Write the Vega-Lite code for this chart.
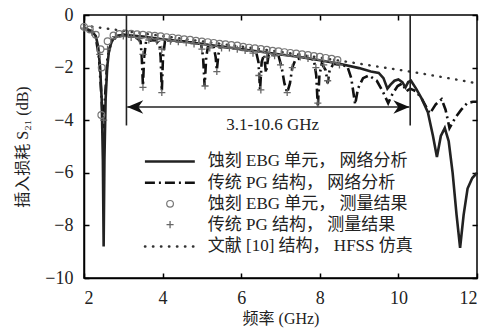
{
  "$schema": "https://vega.github.io/schema/vega-lite/v6.json",
  "autosize": "none",
  "width": 393,
  "height": 263,
  "padding": {"left": 84, "top": 15, "right": 9, "bottom": 53},
  "background": "white",
  "config": {
    "view": {"stroke": "black", "strokeWidth": 1.5},
    "font": "Liberation Serif",
    "axis": {
      "grid": false,
      "domainColor": "black",
      "domainWidth": 1.5,
      "tickColor": "black",
      "tickWidth": 1.5,
      "tickSize": -5,
      "labelFont": "Liberation Serif",
      "labelFontSize": 18,
      "labelColor": "#222",
      "titleFont": "Liberation Serif, Noto Sans CJK SC",
      "titleFontSize": 16,
      "titleFontWeight": "normal",
      "titleColor": "#222"
    }
  },
  "datasets": {
    "curves": [
      {"s": "ebg", "f": 2.0, "v": -0.5}, {"s": "ebg", "f": 2.1, "v": -0.55}, {"s": "ebg", "f": 2.2, "v": -0.62}, {"s": "ebg", "f": 2.3, "v": -0.8},
      {"s": "ebg", "f": 2.36, "v": -1.2}, {"s": "ebg", "f": 2.41, "v": -2.0}, {"s": "ebg", "f": 2.45, "v": -3.2}, {"s": "ebg", "f": 2.48, "v": -5.5},
      {"s": "ebg", "f": 2.5, "v": -8.8}, {"s": "ebg", "f": 2.52, "v": -5.5}, {"s": "ebg", "f": 2.55, "v": -3.2}, {"s": "ebg", "f": 2.59, "v": -2.0},
      {"s": "ebg", "f": 2.64, "v": -1.3}, {"s": "ebg", "f": 2.72, "v": -0.95}, {"s": "ebg", "f": 2.85, "v": -0.8}, {"s": "ebg", "f": 3.0, "v": -0.75},
      {"s": "ebg", "f": 3.5, "v": -0.82}, {"s": "ebg", "f": 4.0, "v": -0.92}, {"s": "ebg", "f": 4.5, "v": -1.0}, {"s": "ebg", "f": 5.0, "v": -1.1},
      {"s": "ebg", "f": 5.5, "v": -1.2}, {"s": "ebg", "f": 6.0, "v": -1.3}, {"s": "ebg", "f": 6.5, "v": -1.4}, {"s": "ebg", "f": 7.0, "v": -1.5},
      {"s": "ebg", "f": 7.5, "v": -1.6}, {"s": "ebg", "f": 8.0, "v": -1.72}, {"s": "ebg", "f": 8.5, "v": -1.85}, {"s": "ebg", "f": 9.0, "v": -2.02},
      {"s": "ebg", "f": 9.3, "v": -2.15}, {"s": "ebg", "f": 9.5, "v": -2.2}, {"s": "ebg", "f": 9.62, "v": -2.4}, {"s": "ebg", "f": 9.72, "v": -2.8},
      {"s": "ebg", "f": 9.8, "v": -2.65}, {"s": "ebg", "f": 9.9, "v": -2.5}, {"s": "ebg", "f": 10.0, "v": -2.45}, {"s": "ebg", "f": 10.1, "v": -2.55},
      {"s": "ebg", "f": 10.18, "v": -2.75}, {"s": "ebg", "f": 10.25, "v": -2.55}, {"s": "ebg", "f": 10.32, "v": -2.5}, {"s": "ebg", "f": 10.45, "v": -2.8},
      {"s": "ebg", "f": 10.6, "v": -3.2}, {"s": "ebg", "f": 10.75, "v": -3.7}, {"s": "ebg", "f": 10.88, "v": -4.6}, {"s": "ebg", "f": 10.98, "v": -5.4},
      {"s": "ebg", "f": 11.08, "v": -4.6}, {"s": "ebg", "f": 11.18, "v": -4.3}, {"s": "ebg", "f": 11.28, "v": -4.8}, {"s": "ebg", "f": 11.38, "v": -6.0},
      {"s": "ebg", "f": 11.48, "v": -7.6}, {"s": "ebg", "f": 11.57, "v": -8.85}, {"s": "ebg", "f": 11.66, "v": -7.6}, {"s": "ebg", "f": 11.76, "v": -6.6},
      {"s": "ebg", "f": 11.88, "v": -6.2}, {"s": "ebg", "f": 12.0, "v": -6.0},

      {"s": "pg", "f": 2.0, "v": -0.5}, {"s": "pg", "f": 2.2, "v": -0.65}, {"s": "pg", "f": 2.3, "v": -0.85}, {"s": "pg", "f": 2.38, "v": -1.6},
      {"s": "pg", "f": 2.44, "v": -3.0}, {"s": "pg", "f": 2.49, "v": -4.3}, {"s": "pg", "f": 2.54, "v": -3.0}, {"s": "pg", "f": 2.6, "v": -1.6},
      {"s": "pg", "f": 2.7, "v": -1.0}, {"s": "pg", "f": 2.85, "v": -0.8}, {"s": "pg", "f": 3.0, "v": -0.75}, {"s": "pg", "f": 3.3, "v": -0.82},
      {"s": "pg", "f": 3.44, "v": -1.0}, {"s": "pg", "f": 3.47, "v": -1.6}, {"s": "pg", "f": 3.5, "v": -2.7}, {"s": "pg", "f": 3.53, "v": -1.6},
      {"s": "pg", "f": 3.58, "v": -1.0}, {"s": "pg", "f": 3.8, "v": -0.95}, {"s": "pg", "f": 3.92, "v": -1.1}, {"s": "pg", "f": 3.95, "v": -1.6},
      {"s": "pg", "f": 3.98, "v": -2.9}, {"s": "pg", "f": 4.01, "v": -1.6}, {"s": "pg", "f": 4.06, "v": -1.0}, {"s": "pg", "f": 4.5, "v": -1.0},
      {"s": "pg", "f": 4.98, "v": -1.1}, {"s": "pg", "f": 5.03, "v": -1.6}, {"s": "pg", "f": 5.07, "v": -2.7}, {"s": "pg", "f": 5.11, "v": -1.6},
      {"s": "pg", "f": 5.16, "v": -1.15}, {"s": "pg", "f": 5.3, "v": -1.2}, {"s": "pg", "f": 5.35, "v": -1.6}, {"s": "pg", "f": 5.38, "v": -2.1},
      {"s": "pg", "f": 5.42, "v": -1.5}, {"s": "pg", "f": 5.47, "v": -1.2}, {"s": "pg", "f": 6.0, "v": -1.3}, {"s": "pg", "f": 6.38, "v": -1.4},
      {"s": "pg", "f": 6.44, "v": -1.8}, {"s": "pg", "f": 6.48, "v": -2.85}, {"s": "pg", "f": 6.52, "v": -1.8}, {"s": "pg", "f": 6.58, "v": -1.5},
      {"s": "pg", "f": 6.63, "v": -2.2}, {"s": "pg", "f": 6.7, "v": -1.5}, {"s": "pg", "f": 6.95, "v": -1.55}, {"s": "pg", "f": 7.03, "v": -2.0},
      {"s": "pg", "f": 7.1, "v": -2.6}, {"s": "pg", "f": 7.17, "v": -2.95}, {"s": "pg", "f": 7.24, "v": -2.6}, {"s": "pg", "f": 7.3, "v": -2.0},
      {"s": "pg", "f": 7.38, "v": -1.7}, {"s": "pg", "f": 7.6, "v": -1.6}, {"s": "pg", "f": 7.85, "v": -1.7}, {"s": "pg", "f": 7.91, "v": -2.3},
      {"s": "pg", "f": 7.95, "v": -3.5}, {"s": "pg", "f": 7.99, "v": -2.3}, {"s": "pg", "f": 8.05, "v": -1.85}, {"s": "pg", "f": 8.15, "v": -2.1},
      {"s": "pg", "f": 8.2, "v": -2.6}, {"s": "pg", "f": 8.25, "v": -2.1}, {"s": "pg", "f": 8.35, "v": -1.85}, {"s": "pg", "f": 8.7, "v": -1.95},
      {"s": "pg", "f": 8.8, "v": -2.4}, {"s": "pg", "f": 8.9, "v": -3.4}, {"s": "pg", "f": 8.97, "v": -2.8}, {"s": "pg", "f": 9.1, "v": -2.4},
      {"s": "pg", "f": 9.25, "v": -2.3}, {"s": "pg", "f": 9.45, "v": -2.5}, {"s": "pg", "f": 9.6, "v": -2.9}, {"s": "pg", "f": 9.74, "v": -3.35},
      {"s": "pg", "f": 9.85, "v": -3.0}, {"s": "pg", "f": 9.98, "v": -2.7}, {"s": "pg", "f": 10.1, "v": -2.6}, {"s": "pg", "f": 10.2, "v": -2.9},
      {"s": "pg", "f": 10.3, "v": -2.8}, {"s": "pg", "f": 10.45, "v": -2.9}, {"s": "pg", "f": 10.6, "v": -3.2}, {"s": "pg", "f": 10.8, "v": -3.75},
      {"s": "pg", "f": 10.95, "v": -3.4}, {"s": "pg", "f": 11.1, "v": -3.2}, {"s": "pg", "f": 11.2, "v": -3.6}, {"s": "pg", "f": 11.3, "v": -4.3},
      {"s": "pg", "f": 11.45, "v": -3.9}, {"s": "pg", "f": 11.6, "v": -3.6}, {"s": "pg", "f": 11.75, "v": -3.35}, {"s": "pg", "f": 11.9, "v": -3.3},
      {"s": "pg", "f": 12.0, "v": -3.3},

      {"s": "ref", "f": 2.0, "v": -0.4}, {"s": "ref", "f": 3.0, "v": -0.6}, {"s": "ref", "f": 4.0, "v": -0.8}, {"s": "ref", "f": 5.0, "v": -1.0},
      {"s": "ref", "f": 6.0, "v": -1.2}, {"s": "ref", "f": 7.0, "v": -1.4}, {"s": "ref", "f": 8.0, "v": -1.62}, {"s": "ref", "f": 9.0, "v": -1.85},
      {"s": "ref", "f": 9.5, "v": -1.97}, {"s": "ref", "f": 10.0, "v": -2.08}, {"s": "ref", "f": 10.5, "v": -2.2}, {"s": "ref", "f": 11.0, "v": -2.33},
      {"s": "ref", "f": 11.5, "v": -2.46}, {"s": "ref", "f": 12.0, "v": -2.6}
    ],
    "meas": [
      {"s": "ebgm", "f": 2.0, "v": -0.45}, {"s": "ebgm", "f": 2.15, "v": -0.55}, {"s": "ebgm", "f": 2.3, "v": -0.75}, {"s": "ebgm", "f": 2.42, "v": -1.3},
      {"s": "ebgm", "f": 2.45, "v": -2.0}, {"s": "ebgm", "f": 2.44, "v": -3.8}, {"s": "ebgm", "f": 2.6, "v": -1.0}, {"s": "ebgm", "f": 2.75, "v": -0.78},
      {"s": "ebgm", "f": 2.9, "v": -0.72}, {"s": "ebgm", "f": 3.05, "v": -0.7}, {"s": "ebgm", "f": 3.2, "v": -0.71}, {"s": "ebgm", "f": 3.35, "v": -0.73},
      {"s": "ebgm", "f": 3.5, "v": -0.75}, {"s": "ebgm", "f": 3.65, "v": -0.77}, {"s": "ebgm", "f": 3.8, "v": -0.79}, {"s": "ebgm", "f": 3.95, "v": -0.81},
      {"s": "ebgm", "f": 4.1, "v": -0.84}, {"s": "ebgm", "f": 4.25, "v": -0.86}, {"s": "ebgm", "f": 4.4, "v": -0.89}, {"s": "ebgm", "f": 4.55, "v": -0.92},
      {"s": "ebgm", "f": 4.7, "v": -0.94}, {"s": "ebgm", "f": 4.85, "v": -0.98}, {"s": "ebgm", "f": 5.0, "v": -1.01}, {"s": "ebgm", "f": 5.15, "v": -1.03},
      {"s": "ebgm", "f": 5.3, "v": -1.06}, {"s": "ebgm", "f": 5.45, "v": -1.09}, {"s": "ebgm", "f": 5.6, "v": -1.11}, {"s": "ebgm", "f": 5.75, "v": -1.14},
      {"s": "ebgm", "f": 5.9, "v": -1.16}, {"s": "ebgm", "f": 6.05, "v": -1.21}, {"s": "ebgm", "f": 6.2, "v": -1.24}, {"s": "ebgm", "f": 6.35, "v": -1.26},
      {"s": "ebgm", "f": 6.5, "v": -1.29}, {"s": "ebgm", "f": 6.65, "v": -1.32}, {"s": "ebgm", "f": 6.8, "v": -1.36}, {"s": "ebgm", "f": 6.95, "v": -1.38},
      {"s": "ebgm", "f": 7.1, "v": -1.41}, {"s": "ebgm", "f": 7.25, "v": -1.44}, {"s": "ebgm", "f": 7.4, "v": -1.46}, {"s": "ebgm", "f": 7.55, "v": -1.49},
      {"s": "ebgm", "f": 7.7, "v": -1.52}, {"s": "ebgm", "f": 7.85, "v": -1.56}, {"s": "ebgm", "f": 8.0, "v": -1.59}, {"s": "ebgm", "f": 8.15, "v": -1.63},
      {"s": "ebgm", "f": 8.3, "v": -1.66}, {"s": "ebgm", "f": 8.45, "v": -1.71},

      {"s": "pgm", "f": 2.0, "v": -0.5}, {"s": "pgm", "f": 2.2, "v": -0.65}, {"s": "pgm", "f": 2.4, "v": -1.5}, {"s": "pgm", "f": 2.5, "v": -4.0},
      {"s": "pgm", "f": 2.6, "v": -1.3}, {"s": "pgm", "f": 2.8, "v": -0.82}, {"s": "pgm", "f": 3.0, "v": -0.8}, {"s": "pgm", "f": 3.2, "v": -0.85},
      {"s": "pgm", "f": 3.4, "v": -0.9}, {"s": "pgm", "f": 3.5, "v": -1.5}, {"s": "pgm", "f": 3.5, "v": -2.75}, {"s": "pgm", "f": 3.65, "v": -0.95},
      {"s": "pgm", "f": 3.85, "v": -1.0}, {"s": "pgm", "f": 3.98, "v": -1.3}, {"s": "pgm", "f": 3.98, "v": -2.95}, {"s": "pgm", "f": 4.2, "v": -1.0},
      {"s": "pgm", "f": 4.4, "v": -1.02}, {"s": "pgm", "f": 4.6, "v": -1.05}, {"s": "pgm", "f": 4.8, "v": -1.1}, {"s": "pgm", "f": 5.0, "v": -1.3},
      {"s": "pgm", "f": 5.08, "v": -2.7}, {"s": "pgm", "f": 5.2, "v": -1.25}, {"s": "pgm", "f": 5.38, "v": -2.15}, {"s": "pgm", "f": 5.5, "v": -1.25},
      {"s": "pgm", "f": 5.7, "v": -1.25}, {"s": "pgm", "f": 5.9, "v": -1.3}, {"s": "pgm", "f": 6.1, "v": -1.35}, {"s": "pgm", "f": 6.3, "v": -1.45},
      {"s": "pgm", "f": 6.45, "v": -2.3}, {"s": "pgm", "f": 6.5, "v": -2.85}, {"s": "pgm", "f": 6.65, "v": -1.6}, {"s": "pgm", "f": 6.85, "v": -1.55},
      {"s": "pgm", "f": 7.0, "v": -1.9}, {"s": "pgm", "f": 7.17, "v": -2.95}, {"s": "pgm", "f": 7.3, "v": -2.0}, {"s": "pgm", "f": 7.5, "v": -1.6},
      {"s": "pgm", "f": 7.7, "v": -1.65}, {"s": "pgm", "f": 7.9, "v": -2.0}, {"s": "pgm", "f": 7.95, "v": -3.35}, {"s": "pgm", "f": 8.1, "v": -1.9},
      {"s": "pgm", "f": 8.2, "v": -2.5}, {"s": "pgm", "f": 8.35, "v": -1.8}, {"s": "pgm", "f": 8.5, "v": -1.9}
    ],
    "vlines": [
      {"f": 3.08, "y1": 0, "y2": -4.2},
      {"f": 10.3, "y1": 0, "y2": -4.2}
    ],
    "harrow": [{"f1": 3.1, "f2": 10.28, "v": -3.5}],
    "heads": [
      {"f": 3.1, "v": -3.5, "dir": "left"},
      {"f": 10.28, "v": -3.5, "dir": "right"}
    ],
    "label": [{"f": 6.8, "v": -4.2, "t": "3.1-10.6 GHz"}],
    "legLines": [
      {"k": "ebg", "f1": 3.55, "f2": 4.82, "v": -5.57},
      {"k": "pg", "f1": 3.55, "f2": 4.82, "v": -6.38},
      {"k": "ref", "f1": 3.55, "f2": 4.82, "v": -8.8}
    ],
    "legPts": [
      {"k": "ebgm", "f": 4.19, "v": -7.18},
      {"k": "pgm", "f": 4.19, "v": -7.97}
    ],
    "legText": [
      {"f": 5.15, "v": -5.57, "t": "蚀刻 EBG 单元， 网络分析"},
      {"f": 5.15, "v": -6.38, "t": "传统 PG 结构， 网络分析"},
      {"f": 5.15, "v": -7.18, "t": "蚀刻 EBG 单元， 测量结果"},
      {"f": 5.15, "v": -7.97, "t": "传统 PG 结构， 测量结果"},
      {"f": 5.15, "v": -8.8, "t": "文献 [10] 结构， HFSS 仿真"}
    ]
  },
  "resolve": {"axis": {"x": "independent", "y": "independent"}},
  "layer": [
    {
      "data": {"name": "curves"},
      "transform": [{"filter": "datum.s === 'ref'"}],
      "mark": {"type": "line", "color": "#333", "strokeWidth": 2.4, "strokeDash": [0.5, 7.5], "strokeCap": "round"},
      "encoding": {
        "x": {"field": "f", "type": "quantitative", "scale": {"domain": [2, 12], "nice": false},
              "axis": {"orient": "bottom", "values": [2, 4, 6, 8, 10, 12], "title": "频率 (GHz)", "labelPadding": 16, "titlePadding": 3}},
        "y": {"field": "v", "type": "quantitative", "scale": {"domain": [-10, 0], "nice": false},
              "axis": {"orient": "left", "values": [0, -2, -4, -6, -8, -10], "title": "插入损耗 S₂₁ (dB)", "labelPadding": 16, "titlePadding": 14}}
      }
    },
    {
      "data": {"name": "curves"},
      "transform": [{"filter": "datum.s === 'pg'"}],
      "mark": {"type": "line", "color": "#111", "strokeWidth": 2.6, "strokeDash": [10, 4, 2, 4]},
      "encoding": {
        "x": {"field": "f", "type": "quantitative", "scale": {"domain": [2, 12], "nice": false},
              "axis": {"orient": "top", "values": [2, 4, 6, 8, 10, 12], "labels": false, "title": null, "domain": false}},
        "y": {"field": "v", "type": "quantitative", "scale": {"domain": [-10, 0], "nice": false},
              "axis": {"orient": "right", "values": [0, -2, -4, -6, -8, -10], "labels": false, "title": null, "domain": false}}
      }
    },
    {
      "data": {"name": "curves"},
      "transform": [{"filter": "datum.s === 'ebg'"}],
      "mark": {"type": "line", "color": "#222", "strokeWidth": 2.6},
      "encoding": {
        "x": {"field": "f", "type": "quantitative", "axis": null},
        "y": {"field": "v", "type": "quantitative", "axis": null}
      }
    },
    {
      "data": {"name": "meas"},
      "transform": [{"filter": "datum.s === 'ebgm'"}],
      "mark": {"type": "point", "shape": "circle", "filled": false, "color": "#777", "strokeWidth": 1.2, "size": 45, "opacity": 1},
      "encoding": {
        "x": {"field": "f", "type": "quantitative", "axis": null},
        "y": {"field": "v", "type": "quantitative", "axis": null}
      }
    },
    {
      "data": {"name": "meas"},
      "transform": [{"filter": "datum.s === 'pgm'"}],
      "mark": {"type": "point", "shape": "M-1,0H1M0,-1V1", "filled": false, "color": "#666", "strokeWidth": 1.3, "size": 50, "opacity": 1},
      "encoding": {
        "x": {"field": "f", "type": "quantitative", "axis": null},
        "y": {"field": "v", "type": "quantitative", "axis": null}
      }
    },
    {
      "data": {"name": "vlines"},
      "mark": {"type": "rule", "color": "#222", "strokeWidth": 1.6},
      "encoding": {
        "x": {"field": "f", "type": "quantitative", "axis": null},
        "y": {"field": "y1", "type": "quantitative", "axis": null},
        "y2": {"field": "y2"}
      }
    },
    {
      "data": {"name": "harrow"},
      "mark": {"type": "rule", "color": "#222", "strokeWidth": 1.6},
      "encoding": {
        "x": {"field": "f1", "type": "quantitative", "axis": null},
        "x2": {"field": "f2"},
        "y": {"field": "v", "type": "quantitative", "axis": null}
      }
    },
    {
      "data": {"name": "heads"},
      "transform": [{"filter": "datum.dir === 'left'"}],
      "mark": {"type": "point", "shape": "M0,0L2,-0.85L1.4,0L2,0.85Z", "filled": true, "color": "#111", "size": 256, "opacity": 1},
      "encoding": {
        "x": {"field": "f", "type": "quantitative", "axis": null},
        "y": {"field": "v", "type": "quantitative", "axis": null}
      }
    },
    {
      "data": {"name": "heads"},
      "transform": [{"filter": "datum.dir === 'right'"}],
      "mark": {"type": "point", "shape": "M0,0L-2,-0.85L-1.4,0L-2,0.85Z", "filled": true, "color": "#111", "size": 256, "opacity": 1},
      "encoding": {
        "x": {"field": "f", "type": "quantitative", "axis": null},
        "y": {"field": "v", "type": "quantitative", "axis": null}
      }
    },
    {
      "data": {"name": "label"},
      "mark": {"type": "text", "font": "Liberation Serif", "fontSize": 17, "color": "#222", "align": "center", "baseline": "middle"},
      "encoding": {
        "x": {"field": "f", "type": "quantitative", "axis": null},
        "y": {"field": "v", "type": "quantitative", "axis": null},
        "text": {"field": "t"}
      }
    },
    {
      "data": {"name": "legLines"},
      "transform": [{"filter": "datum.k === 'ebg'"}],
      "mark": {"type": "rule", "color": "#222", "strokeWidth": 2.6},
      "encoding": {
        "x": {"field": "f1", "type": "quantitative", "axis": null},
        "x2": {"field": "f2"},
        "y": {"field": "v", "type": "quantitative", "axis": null}
      }
    },
    {
      "data": {"name": "legLines"},
      "transform": [{"filter": "datum.k === 'pg'"}],
      "mark": {"type": "rule", "color": "#111", "strokeWidth": 2.6, "strokeDash": [10, 4, 2, 4]},
      "encoding": {
        "x": {"field": "f1", "type": "quantitative", "axis": null},
        "x2": {"field": "f2"},
        "y": {"field": "v", "type": "quantitative", "axis": null}
      }
    },
    {
      "data": {"name": "legLines"},
      "transform": [{"filter": "datum.k === 'ref'"}],
      "mark": {"type": "rule", "color": "#333", "strokeWidth": 2.4, "strokeDash": [0.5, 7.5], "strokeCap": "round"},
      "encoding": {
        "x": {"field": "f1", "type": "quantitative", "axis": null},
        "x2": {"field": "f2"},
        "y": {"field": "v", "type": "quantitative", "axis": null}
      }
    },
    {
      "data": {"name": "legPts"},
      "transform": [{"filter": "datum.k === 'ebgm'"}],
      "mark": {"type": "point", "shape": "circle", "filled": false, "color": "#777", "strokeWidth": 1.2, "size": 45, "opacity": 1},
      "encoding": {
        "x": {"field": "f", "type": "quantitative", "axis": null},
        "y": {"field": "v", "type": "quantitative", "axis": null}
      }
    },
    {
      "data": {"name": "legPts"},
      "transform": [{"filter": "datum.k === 'pgm'"}],
      "mark": {"type": "point", "shape": "M-1,0H1M0,-1V1", "filled": false, "color": "#666", "strokeWidth": 1.3, "size": 50, "opacity": 1},
      "encoding": {
        "x": {"field": "f", "type": "quantitative", "axis": null},
        "y": {"field": "v", "type": "quantitative", "axis": null}
      }
    },
    {
      "data": {"name": "legText"},
      "mark": {"type": "text", "font": "Liberation Serif, Noto Sans CJK SC", "fontSize": 17, "color": "#222", "align": "left", "baseline": "middle"},
      "encoding": {
        "x": {"field": "f", "type": "quantitative", "axis": null},
        "y": {"field": "v", "type": "quantitative", "axis": null},
        "text": {"field": "t"}
      }
    }
  ]
}
